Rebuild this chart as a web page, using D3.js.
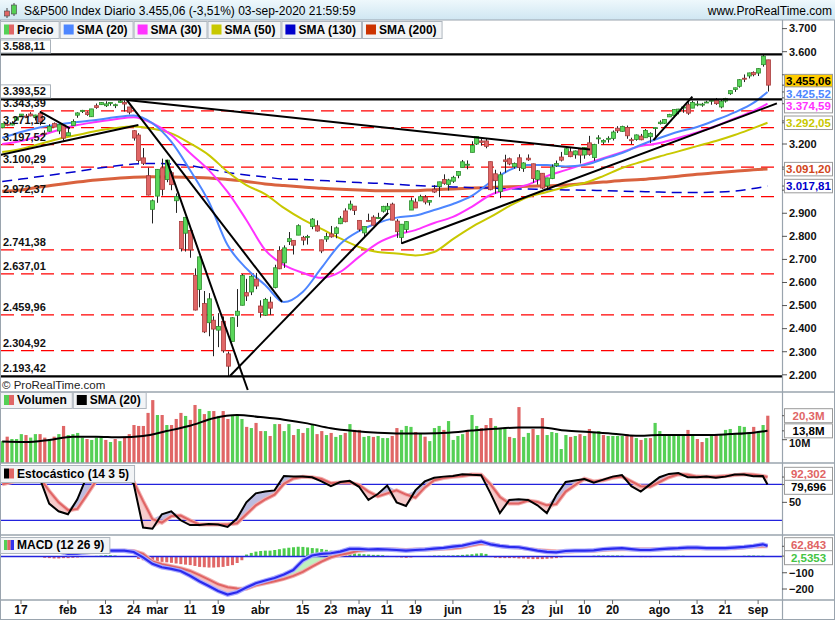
<!DOCTYPE html>
<html lang="es">
<head>
<meta charset="utf-8">
<title>S&amp;P500 Index Diario</title>
<script src="https://cdn.jsdelivr.net/npm/d3@7"></script>
<style>
  body { margin: 0; background: #fff; }
  svg text { font-family: "Liberation Sans", Arial, sans-serif; }
</style>
</head>
<body>
<div id="chart"></div>
<script>
// ---------- data (trading-day index 0 = 13-ene-2020, 163 = 03-sep-2020) ----------
const axisIdx    = [4, 14, 22, 28, 33, 40, 46, 55, 64, 70, 76, 82, 88, 96, 106, 112, 118, 124, 130, 140, 148, 154, 161];
const axisLabels = ["17","feb","13","24","mar","11","19","abr","15","23","may","11","19","jun","15","23","jul","10","20","ago","13","21","sep"];

const openP = [3271.1,3285.4,3282.3,3303.0,3323.7,3321.0,3330.0,3315.8,3333.1,3247.2,3255.4,3289.5,3256.5,3282.3,
  3235.7,3280.6,3324.9,3344.9,3335.5,3318.3,3365.9,3370.5,3365.9,3378.1,3369.0,3380.4,3380.5,3360.5,3257.6,3238.9,3139.9,3062.5,2916.9,
  2974.3,3096.5,3045.8,3075.7,2954.2,2863.9,2813.5,2825.6,2630.9,2570.0,2508.6,2425.7,2436.5,2393.5,2431.9,2290.7,2344.4,2457.8,2501.3,2555.9,2559.0,2614.7,
  2498.1,2458.5,2514.9,2578.3,2738.7,2685.0,2777.0,2782.5,2805.1,2795.6,2799.3,2842.4,2845.6,2784.8,2787.9,2810.4,2812.6,2854.7,2910.0,2918.5,2930.9,
  2869.1,2815.0,2868.9,2883.1,2878.3,2908.8,2915.5,2939.5,2865.9,2794.5,2829.9,2913.9,2948.6,2953.6,2970.0,2948.1,3004.1,3015.7,3046.6,3025.2,
  3038.8,3064.2,3098.9,3111.6,3163.8,3199.9,3213.3,3213.4,3123.5,3071.0,2993.8,3131.0,3136.1,3101.6,3140.3,3094.4,3138.7,3114.4,3046.6,3073.2,3018.6,3050.2,
  3105.9,3143.6,3155.3,3166.4,3153.1,3176.2,3152.5,3205.1,3141.1,3226.0,3208.4,3224.2,3224.3,3268.5,3254.9,3271.6,3218.6,3219.8,3234.3,3227.2,3231.8,3270.5,
  3288.3,3289.9,3317.4,3323.2,3340.1,3356.0,3370.3,3355.5,3373.0,3368.7,3380.9,3387.0,3392.5,3360.5,3386.0,3418.1,3436.0,3450.0,3485.1,3494.7,3509.7,
  3507.4,3543.8,3564.7];
const highP = [3288.1,3294.2,3298.7,3317.1,3329.9,3329.8,3337.8,3326.9,3333.2,3258.9,3285.8,3293.5,3285.9,3282.3,
  3268.4,3306.9,3337.6,3348.0,3341.4,3352.3,3375.6,3381.5,3385.1,3380.7,3375.0,3393.5,3389.2,3360.8,3259.8,3247.0,3182.5,3097.1,2959.7,
  3091.0,3136.7,3131.0,3083.0,2985.9,2863.9,2882.6,2825.6,2661.0,2711.3,2563.0,2553.9,2453.6,2467.0,2453.0,2300.7,2449.7,2571.4,2637.0,2615.9,2631.8,2641.4,
  2522.8,2533.2,2538.2,2676.9,2756.9,2760.8,2818.6,2782.5,2851.9,2801.9,2806.5,2879.2,2869.0,2785.5,2815.1,2844.9,2842.7,2887.7,2921.2,2954.9,2930.9,
  2869.1,2844.2,2898.2,2891.1,2901.9,2932.2,2944.3,2945.8,2874.1,2852.8,2865.0,2968.1,2964.2,2980.3,2978.5,2956.8,3021.7,3036.3,3068.7,3049.2,
  3062.2,3081.1,3130.9,3128.9,3211.7,3233.1,3222.7,3223.3,3123.5,3088.4,3079.8,3153.5,3141.2,3120.0,3155.5,3120.9,3154.9,3115.0,3086.2,3073.7,3053.9,3111.5,
  3128.4,3165.8,3182.6,3184.2,3171.8,3179.8,3186.8,3235.3,3201.0,3238.3,3220.4,3233.5,3258.6,3277.3,3279.3,3280.0,3227.3,3241.4,3243.7,3264.7,3250.9,3272.2,
  3302.7,3306.8,3330.8,3351.0,3352.5,3363.3,3381.0,3387.9,3387.2,3378.5,3387.6,3395.1,3399.5,3390.8,3400.0,3432.1,3444.2,3481.1,3501.4,3509.2,3514.8,
  3528.0,3588.11,3564.9];
const lowP = [3268.4,3277.2,3280.7,3302.8,3318.9,3316.6,3320.0,3301.9,3281.5,3234.5,3253.2,3271.9,3242.8,3214.7,
  3235.7,3280.6,3313.8,3334.4,3322.1,3317.8,3352.7,3369.7,3360.5,3366.2,3355.6,3378.8,3341.0,3328.5,3214.7,3118.8,3109.0,2977.4,2855.8,
  2945.2,2976.6,3034.4,2999.8,2901.5,2734.4,2734.0,2707.2,2478.9,2492.4,2380.9,2367.0,2280.5,2319.8,2295.6,2191.9,2344.4,2407.5,2500.7,2520.0,2545.3,2571.2,
  2447.5,2455.8,2459.96,2574.6,2657.7,2663.3,2762.4,2721.2,2805.1,2761.5,2764.3,2830.9,2820.4,2727.1,2776.0,2794.3,2791.8,2852.9,2860.7,2912.2,2892.5,
  2821.6,2797.9,2863.6,2847.7,2876.5,2902.9,2903.4,2869.6,2793.2,2766.6,2816.8,2913.9,2922.4,2953.6,2938.6,2933.6,2988.2,2969.8,3023.4,2998.6,
  3031.5,3051.6,3098.9,3090.4,3163.8,3196.0,3193.1,3181.5,2999.5,2984.5,2965.7,3076.1,3108.0,3093.5,3083.1,3079.4,3127.1,3032.1,3024.0,3004.6,2999.7,3047.8,
  3101.0,3124.5,3155.3,3142.9,3136.5,3115.7,3136.2,3149.4,3127.7,3200.8,3198.6,3205.7,3215.2,3247.8,3253.1,3222.7,3200.1,3214.3,3216.2,3227.2,3204.1,3220.3,
  3284.5,3286.7,3317.4,3318.1,3328.7,3335.4,3326.4,3355.5,3363.4,3361.6,3379.2,3370.2,3369.7,3354.7,3379.3,3413.1,3425.8,3444.2,3468.4,3484.3,3493.3,
  3494.6,3535.2,3427.4];
const closeP = [3288.1,3283.2,3289.3,3316.8,3329.6,3320.8,3321.8,3325.5,3295.5,3243.6,3276.2,3273.4,3283.7,3225.5,
  3248.9,3297.6,3334.7,3345.8,3327.7,3352.1,3357.8,3379.5,3373.9,3380.2,3370.3,3386.2,3373.2,3337.8,3225.9,3128.2,3116.4,2978.8,2954.2,
  3090.2,3003.4,3130.1,3023.9,2972.4,2746.6,2882.2,2741.4,2480.6,2711.0,2386.1,2529.2,2398.1,2409.4,2304.9,2237.4,2447.3,2475.6,2630.1,2541.5,2626.7,2584.6,
  2470.5,2526.9,2488.7,2663.7,2659.4,2750.0,2789.8,2761.6,2846.1,2783.4,2799.6,2874.6,2823.2,2736.6,2799.3,2797.8,2836.7,2878.5,2863.4,2939.5,2912.4,
  2830.7,2842.7,2868.4,2848.4,2881.2,2929.8,2930.3,2870.1,2820.0,2852.5,2863.7,2953.9,2922.9,2971.6,2948.5,2955.5,2991.8,3036.1,3029.7,3044.3,
  3055.7,3080.8,3122.9,3112.4,3193.9,3232.4,3207.2,3190.1,3002.1,3041.3,3066.6,3124.7,3113.5,3115.3,3097.7,3117.9,3131.3,3050.3,3083.8,3009.1,3053.2,3100.3,
  3115.9,3130.0,3179.7,3145.3,3169.9,3152.1,3185.0,3155.2,3197.5,3226.6,3215.6,3224.7,3251.8,3257.3,3276.0,3235.7,3215.6,3239.4,3218.4,3258.4,3246.2,3271.1,
  3294.6,3306.5,3327.8,3349.2,3351.3,3360.5,3333.7,3380.4,3373.4,3372.9,3382.0,3389.8,3374.9,3385.5,3397.2,3431.3,3443.6,3478.7,3484.6,3508.0,3500.3,
  3526.7,3580.8,3455.06];

// volume in millions
const volume = [9.4,11.3,10.3,10.3,12.4,12.0,10.9,12.4,12.4,10.9,10.3,11.3,12.4,15.9,12.0,12.4,12.9,10.9,10.3,9.9,
  10.9,11.3,9.9,9.0,10.3,9.4,10.9,12.4,16.3,15.9,15.9,21.5,27.0,20.6,20.6,16.3,16.3,18.9,21.5,20.2,
  18.5,24.9,23.2,21.0,22.3,22.3,20.2,22.3,18.9,20.6,20.2,18.9,15.5,15.0,17.2,13.7,13.7,11.6,16.7,16.7,
  13.7,16.7,12.0,14.6,12.9,15.0,16.7,12.4,13.7,12.0,12.9,11.2,12.0,12.9,16.7,14.2,14.2,11.2,11.6,11.2,
  11.6,10.7,10.7,11.6,15.0,14.2,15.9,15.5,13.3,
  12.7,11.3,9.4,15.0,15.9,14.2,18.0,9.9,11.6,12.4,14.2,20.6,15.9,15.0,16.3,19.3,15.9,15.0,15.0,11.2,
  10.7,24.0,11.2,12.9,14.6,12.0,19.3,12.0,13.3,12.9,6.0,12.0,11.2,11.6,12.4,11.6,14.6,13.3,13.7,12.0,
  11.6,11.6,11.6,11.6,12.4,12.0,10.7,9.9,10.7,10.7,17.2,13.7,11.6,11.6,11.6,12.4,11.6,14.2,11.6,10.3,
  9.0,10.7,11.6,12.4,12.0,14.2,14.6,12.9,15.9,15.5,13.3,15.5,13.3,16.3,20.3];
const volSma = [9.2,9.0,9.9,11.3,11.3,11.0,11.6,13.7,16.0,19.2,20.6,19.7,18.6,17.0,14.9,13.7,13.0,12.7,12.7,13.0,
  13.9,14.7,15.2,15.2,13.9,13.3,12.6,11.7,12.0,12.0,12.0,12.4,13.0,13.8];

// moving averages, read every 4 bars (+ last bar)
const sma20  = [3226,3252,3272,3285,3295,3304,3316,3324,3290,3210,3087,2950,2762,2661,2589,2515,2559,2663,2767,2823,2858,
  2881,2890,2914,2940,2975,3035,3087,3109,3109,3103,3109,3135,3161,3196,3226,3253,3274,3304,3337,3378,3425.52];
const sma30  = [3200,3213,3235,3261,3282,3295,3307,3316,3290,3239,3161,3087,2993,2871,2741,2676,2642,2620,2646,2711,2771,
  2806,2827,2858,2884,2928,2979,3005,3024,3061,3087,3113,3139,3165,3191,3204,3226,3250,3278,3311,3343,3374.59];
const sma50  = [3165,3178,3200,3222,3239,3256,3269,3276,3266,3246,3203,3152,3080,3022,2983,2923,2873,2832,2791,2754,2732,
  2726,2717,2732,2788,2840,2884,2931,2970,2992,3014,3031,3061,3096,3122,3146,3168,3191,3213,3239,3269,3292.05];
const sma130 = [3038,3048,3059,3070,3081,3094,3105,3113,3116,3113,3107,3092,3077,3066,3057,3048,3046,3042,3038,3033,3030,
  3025,3020,3017,3014,3011,3009,3006,3005,3003,3001,3000,2998,2996,2994,2992,2990,2990,2992,2996,3007,3017.81];
const sma200 = [2995,3001,3014,3025,3035,3044,3051,3056,3058,3057,3055,3053,3046,3038,3027,3020,3014,3008,3004,3001,2998,
  2998,2998,3002,3005,3009,3012,3015,3017,3019,3022,3029,3035,3042,3046,3053,3060,3069,3075,3082,3089,3091.20];

// stochastic (14 3 5), read every 2 bars (+ last bar)
const stochK = [88,92,95,93,90,48,35,30,55,93, 95,97,96,94,81,8,6,30,35,20, 12,12,14,13,9,23,50,65,68,70,
  94,93,93,92,85,77,84,86,76,54, 64,78,50,44,70,85,91,93,94,97, 96,95.5,65,32,54,55,54,45,32,62,
  84,86.5,89,83,88,93,95.5,77,68,80, 92,97.5,99,92,92,93,91,93,96.5,96.5, 93.5,94,79.696];
const stochD = [80,84,90,92,91,69,50,37,39,62, 86,93,95,94,84,52,22,16,27,28, 20,13,13,13,13,15,30,45,55,63,
  81,90,92.7,92,89,82,83,83.5,79,68, 60,65,70,63,58,75,87,90.5,92.8,94, 96.5,96,80,59,48,48,53,50.5,45,47,
  68,79,89.5,85,87,91,93,85,77,76, 84,92,97,96,93,92.7,92.7,94,95.5,97, 96,94,92.302];

// MACD (12 26 9), read every 2 bars (+ last bar); histogram per bar
const macdLine = [45,46,48,50,52,51,34,16,18,26, 34,36,36,36,28,-5,-45,-66,-76,-89,
  -119,-152,-181,-212,-234,-220,-191,-165,-148,-132, -111,-83,-25,6,16,20,30,47,47,43,
  45,43,40,36,40,43,49,53,61,67, 80,92,75,65,59,57,47,36,28,26, 34,36,36,38,45,49,51,45,40,40,
  45,49,51,55,55,51,51,51,55,59, 65,75,65.4];
const macdSignal = [45,46,47,48,50,43,36,30,24,26, 28,32,34,36,34,16,-31,-47,-60,-72,
  -89,-115,-142,-171,-189,-197,-199,-177,-165,-152, -138,-119,-95,-62,-31,-5,10,22,36,40,
  45,45,43,40,43,43,45,47,51,57, 69,80,78,65,59,55,47,40,36,32, 30,32,34,36,40,43,45,45,45,45,
  45,47,49,51,51,51,51,51,51,55, 61,63,62.843];
const macdHist = [0,0,0,0,0,0,0,0,0, -8,-10,-12,-12,-10,-10,-8,-6,-4, 0,2,4, 6,8,8,6, 3,1,0,-3,
  -15,-23,-26,-29,-31,-33,-36,-39,-43,-47,-50,-53,-58,-64,-66,-68,-68,-66,-64,-58,-53,-40,-23,
  12,22,30,34,36,36,40,45,50,54,57,60,59,56,52,50,46,41,36,31,27,24,22,20,17,14,12,10,10,8,4,0,-4,-6,-8,-6,-3,0,
  2,4,6,6,6,6,7,8,10,12,14,18,20,16,
  -4,-8,-10,-10,-10,-10,-12,-12,-14,-16,-16,-16,-14,-12,-10,-6,-3,
  0,1,1,1,2,5,6,6,6,6,6,5,2,0,-2, -4,-4,-4,-3,0,1,2, 5,5,5,2,1,0,0,-1,-2, -1,-2,-3,-1,0,1, 5,6,6,5,5,2.5353];

// drawn levels and trend lines
const solidLevels  = [3588.11, 3393.52, 2193.42];
const dashedLevels = [3343.39, 3271.12, 3197.52, 3100.29, 2972.37, 2741.38, 2637.01, 2459.96, 2304.92];
const trendLines = [ // [idx1, price1, idx2, price2]
  [26.5, 3391, 125.2, 3176],
  [26.5, 3391, 59.6, 2516],
  [35, 3131, 52.3, 2134],
  [48.5, 2195, 82.2, 2902],
  [85.1, 2770, 165, 3376],
  [138.7, 3217, 147, 3405],
  [-0.5, 3152, 29, 3282],
  [8, 3340, 14.4, 3268]
];

// ---------- layout ----------
const W = 835, H = 620, AX = 782;
const P = {main: [20, 392], vol: [392, 463], sto: [463, 535], macd: [535, 600]};
const gridMa  = d3.range(0, 161, 4).concat([163]);
const gridOsc = d3.range(0, 163, 2).concat([163]);
const gridVol = d3.range(0, 161, 5).concat([163]);

const es = d3.formatLocale({decimal: ",", thousands: ".", grouping: [3], currency: ["", ""]});
const f2 = es.format(",.2f"), f0 = es.format(",.0f"), f3 = es.format(",.3f"), f1 = es.format(",.1f"), f4 = es.format(",.4f");

const x  = d3.scaleLinear().domain([4, 163]).range([21, 767.5]);
const yP = d3.scaleLinear().domain([2200, 3600]).range([374.8, 51.7]);
const yV = d3.scaleLinear().domain([0, 10]).range([463, 439.7]);
const yS = d3.scaleLinear().domain([20, 80]).range([520.3, 484.4]);
const yM = d3.scaleLinear().domain([-200, 0]).range([589, 556.5]);

const svg = d3.select("#chart").append("svg").attr("width", W).attr("height", H);
svg.append("rect").attr("width", W).attr("height", H).attr("fill", "#fff");

const defs = svg.append("defs");
Object.entries(P).forEach(([k, r]) => {
  defs.append("clipPath").attr("id", "clip-" + k)
    .append("rect").attr("x", 0).attr("y", r[0]).attr("width", AX).attr("height", r[1] - r[0]);
});
const grad = defs.append("linearGradient").attr("id", "titleGrad").attr("x1", 0).attr("y1", 0).attr("x2", 0).attr("y2", 1);
grad.append("stop").attr("offset", "0%").attr("stop-color", "#eef8fc");
grad.append("stop").attr("offset", "100%").attr("stop-color", "#cfe6f2");

const pts = (grid, vals) => grid.map((i, k) => ({i: i, v: vals[k]}));

// ---------- main price panel ----------
const gm = svg.append("g").attr("clip-path", "url(#clip-main)");

gm.selectAll("line.dash").data(dashedLevels).join("line")
  .attr("x1", 1).attr("x2", 777).attr("y1", d => yP(d)).attr("y2", d => yP(d))
  .attr("stroke", "#ff0000").attr("stroke-width", 1.2).attr("stroke-dasharray", "13,7");

const maLine = d3.line().x(d => x(d.i)).y(d => yP(d.v)).curve(d3.curveMonotoneX);
const mas = [
  {vals: sma200, color: "#d2461c", w: 3, dash: null},
  {vals: sma130, color: "#0000cc", w: 1.5, dash: "10,6"},
  {vals: sma50,  color: "#c8c800", w: 2,   dash: null},
  {vals: sma30,  color: "#ff33ff", w: 2,   dash: null},
  {vals: sma20,  color: "#4d86ff", w: 2,   dash: null}
];
mas.forEach(m => {
  gm.append("path").attr("d", maLine(pts(gridMa, m.vals))).attr("fill", "none")
    .attr("stroke", m.color).attr("stroke-width", m.w).attr("stroke-dasharray", m.dash)
    .attr("stroke-opacity", m.w > 2.5 ? 0.85 : 1);
});

const cg = gm.selectAll("g.candle").data(d3.range(closeP.length)).join("g");
cg.append("line")
  .attr("x1", i => Math.round(x(i)) + 0.5).attr("x2", i => Math.round(x(i)) + 0.5)
  .attr("y1", i => yP(highP[i])).attr("y2", i => yP(lowP[i]))
  .attr("stroke", "#222").attr("stroke-width", 1);
cg.append("rect")
  .attr("x", i => Math.round(x(i)) - 1.5)
  .attr("y", i => yP(Math.max(openP[i], closeP[i])))
  .attr("width", 4)
  .attr("height", i => Math.max(1, Math.abs(yP(openP[i]) - yP(closeP[i]))))
  .attr("fill", i => closeP[i] >= openP[i] ? "#5ad65a" : "#e06666")
  .attr("stroke", i => closeP[i] >= openP[i] ? "#2f8f2f" : "#a83c3c")
  .attr("stroke-width", 0.8);

gm.selectAll("line.trend").data(trendLines).join("line")
  .attr("x1", d => x(d[0])).attr("y1", d => yP(d[1]))
  .attr("x2", d => x(d[2])).attr("y2", d => yP(d[3]))
  .attr("stroke", "#000").attr("stroke-width", 2);

gm.selectAll("line.solid").data(solidLevels).join("line")
  .attr("x1", 0).attr("x2", AX).attr("y1", d => yP(d)).attr("y2", d => yP(d))
  .attr("stroke", "#000").attr("stroke-width", 2.2);

// level labels on the left
const levelLabels = solidLevels.concat(dashedLevels);
levelLabels.forEach((v, k) => {
  const yy = yP(v);
  if (k < 2) {
    svg.append("rect").attr("x", 0.5).attr("y", yy - 14.5).attr("width", 50).attr("height", 13)
      .attr("fill", "#fff").attr("stroke", "#aab2ba");
  }
  svg.append("text").attr("x", 3).attr("y", yy - 4).attr("font-size", 11).attr("font-weight", "bold")
    .attr("fill", "#111").text(f2(v));
});

svg.append("text").attr("x", 2).attr("y", 389).attr("font-size", 11.5).attr("fill", "#222").text("\u00a9 ProRealTime.com");

// ---------- volume panel ----------
const gv = svg.append("g").attr("clip-path", "url(#clip-vol)");
gv.selectAll("rect").data(volume).join("rect")
  .attr("x", (d, i) => x(i) - 1.3).attr("width", 3.2)
  .attr("y", d => yV(d)).attr("height", d => yV(0) - yV(d))
  .attr("fill", (d, i) => (i === 0 ? closeP[0] >= openP[0] : closeP[i] >= closeP[i - 1]) ? "#55d055" : "#e06666");
gv.append("path").attr("d", d3.line().x(d => x(d.i)).y(d => yV(d.v)).curve(d3.curveMonotoneX)(pts(gridVol, volSma)))
  .attr("fill", "none").attr("stroke", "#000").attr("stroke-width", 2);

// ---------- stochastic panel ----------
const gs = svg.append("g").attr("clip-path", "url(#clip-sto)");
const stoData = gridOsc.map((i, k) => ({i: i, k: stochK[k], d: stochD[k]}));
gs.append("path").attr("fill", "#bcbce0")
  .attr("d", d3.area().x(d => x(d.i)).y0(d => yS(d.d)).y1(d => yS(Math.max(d.k, d.d)))(stoData));
gs.append("path").attr("fill", "#f7cccc")
  .attr("d", d3.area().x(d => x(d.i)).y0(d => yS(d.d)).y1(d => yS(Math.min(d.k, d.d)))(stoData));
[80, 20].forEach(v => gs.append("line").attr("x1", 0).attr("x2", AX).attr("y1", yS(v)).attr("y2", yS(v))
  .attr("stroke", "#2222dd").attr("stroke-width", 1.3));
gs.append("path").attr("d", d3.line().x(d => x(d.i)).y(d => yS(d.d))(stoData))
  .attr("fill", "none").attr("stroke", "#f2b0b0").attr("stroke-width", 4);
gs.append("path").attr("d", d3.line().x(d => x(d.i)).y(d => yS(d.d))(stoData))
  .attr("fill", "none").attr("stroke", "#e06464").attr("stroke-width", 2);
gs.append("path").attr("d", d3.line().x(d => x(d.i)).y(d => yS(d.k))(stoData))
  .attr("fill", "none").attr("stroke", "#000").attr("stroke-width", 2);

// ---------- MACD panel ----------
const gd = svg.append("g").attr("clip-path", "url(#clip-macd)");
const mData = gridOsc.map((i, k) => ({i: i, m: macdLine[k], s: macdSignal[k]}));
gd.append("path").attr("fill", "#bff0bf")
  .attr("d", d3.area().x(d => x(d.i)).y0(d => yM(d.s)).y1(d => yM(Math.max(d.m, d.s)))(mData));
gd.append("path").attr("fill", "#f6c2c2")
  .attr("d", d3.area().x(d => x(d.i)).y0(d => yM(d.s)).y1(d => yM(Math.min(d.m, d.s)))(mData));
gd.selectAll("rect.h").data(macdHist).join("rect")
  .attr("x", (d, i) => x(i) - 1.3).attr("width", 3)
  .attr("y", d => Math.min(yM(d), yM(0))).attr("height", d => Math.abs(yM(d) - yM(0)))
  .attr("fill", d => d >= 0 ? "#4ccc4c" : "#e06666");
gd.append("line").attr("x1", 0).attr("x2", AX).attr("y1", yM(0)).attr("y2", yM(0))
  .attr("stroke", "#2222dd").attr("stroke-width", 1.3);
gd.append("path").attr("d", d3.line().x(d => x(d.i)).y(d => yM(d.s))(mData))
  .attr("fill", "none").attr("stroke", "#f2b0b0").attr("stroke-width", 4);
gd.append("path").attr("d", d3.line().x(d => x(d.i)).y(d => yM(d.s))(mData))
  .attr("fill", "none").attr("stroke", "#e06464").attr("stroke-width", 2);
gd.append("path").attr("d", d3.line().x(d => x(d.i)).y(d => yM(d.m))(mData))
  .attr("fill", "none").attr("stroke", "#a8a8ff").attr("stroke-width", 4.5);
gd.append("path").attr("d", d3.line().x(d => x(d.i)).y(d => yM(d.m))(mData))
  .attr("fill", "none").attr("stroke", "#2a2aee").attr("stroke-width", 2.2);

// ---------- frames ----------
const frame = "#9aa4ae";
[392, 463, 535, 600].forEach(yy => svg.append("line").attr("x1", 0).attr("x2", W).attr("y1", yy).attr("y2", yy)
  .attr("stroke", frame).attr("stroke-width", 1.5));
svg.append("line").attr("x1", AX + 0.5).attr("x2", AX + 0.5).attr("y1", 20).attr("y2", 620).attr("stroke", frame).attr("stroke-width", 1.2);
svg.append("line").attr("x1", 0.5).attr("x2", 0.5).attr("y1", 20).attr("y2", 620).attr("stroke", frame);
svg.append("line").attr("x1", W - 0.5).attr("x2", W - 0.5).attr("y1", 0).attr("y2", 620).attr("stroke", frame);
svg.append("line").attr("x1", 0).attr("x2", W).attr("y1", 619.5).attr("y2", 619.5).attr("stroke", frame);

// ---------- right axes and value tags ----------
function layoutTags(items, h) {
  items.forEach(t => { t.y = t.scale(t.v); t.ty = t.y; t.h = h; });
  items.sort((a, b) => a.y - b.y);
  for (let it = 0; it < 30; it++) {
    for (let k = 1; k < items.length; k++) {
      const ov = h - (items[k].ty - items[k - 1].ty);
      if (ov > 0) { items[k - 1].ty -= ov / 2; items[k].ty += ov / 2; }
    }
  }
  return items;
}
const last = a => a[a.length - 1];
const allTags = [].concat(
  layoutTags([
    {v: last(closeP), scale: yP, text: f2(last(closeP)), color: "#000", fill: "#ffcc00"},
    {v: last(sma20),  scale: yP, text: f2(last(sma20)),  color: "#4d86ff"},
    {v: last(sma30),  scale: yP, text: f2(last(sma30)),  color: "#ff33ff"},
    {v: last(sma50),  scale: yP, text: f2(last(sma50)),  color: "#c8c800"},
    {v: last(sma200), scale: yP, text: f2(last(sma200)), color: "#d2461c"},
    {v: last(sma130), scale: yP, text: f2(last(sma130)), color: "#0000cc"}
  ], 12.5),
  layoutTags([
    {v: last(volume), scale: yV, text: f1(last(volume)) + "M", color: "#e06666"},
    {v: last(volSma), scale: yV, text: f1(last(volSma)) + "M", color: "#000"}
  ], 13),
  layoutTags([
    {v: last(stochD), scale: yS, text: f3(last(stochD)), color: "#e06464"},
    {v: last(stochK), scale: yS, text: f3(last(stochK)), color: "#000"}
  ], 13),
  layoutTags([
    {v: last(macdSignal), scale: yM, text: f3(last(macdSignal)), color: "#e06464"},
    {v: last(macdHist),   scale: yM, text: f4(last(macdHist)),   color: "#44c444"}
  ], 13)
);

function axisTicks(vals, scale, fmt) {
  vals.forEach(v => {
    const yy = scale(v);
    svg.append("line").attr("x1", AX).attr("x2", AX + 5).attr("y1", yy).attr("y2", yy).attr("stroke", "#555");
    // labels sitting under a value tag are hidden, as in the platform
    const covered = allTags.some(t => yy > t.ty - t.h / 2 - 1 && yy < t.ty + t.h / 2 + 1);
    if (covered) return;
    // a label just touching a tag is pushed clear of it
    let ly = yy;
    allTags.forEach(t => {
      const bottom = t.ty + t.h / 2 + 0.5;
      if (ly - 5 < bottom && ly > t.ty) ly = bottom + 5.5;
    });
    svg.append("text").attr("x", AX + 7).attr("y", ly).attr("dy", "0.35em").attr("font-size", 11)
      .attr("font-weight", "bold").attr("fill", "#111").text(fmt(v));
  });
}
axisTicks(d3.range(2200, 3701, 100), yP, f0);
axisTicks([10], yV, v => v + "M");
axisTicks([50], yS, f0);
axisTicks([-100, -200], yM, f0);

allTags.forEach(t => {
  svg.append("line").attr("x1", AX).attr("x2", AX + 5).attr("y1", t.y).attr("y2", t.y).attr("stroke", "#555");
  svg.append("rect").attr("x", 784.5).attr("y", t.ty - t.h / 2 - 0.5).attr("width", 48).attr("height", t.h + 1)
    .attr("fill", t.fill || "#fff").attr("stroke", "#9a9a9a");
  svg.append("text").attr("x", 808.5).attr("y", t.ty).attr("dy", "0.36em").attr("text-anchor", "middle")
    .attr("font-size", 11.5).attr("font-weight", "bold").attr("fill", t.color).text(t.text);
});

// ---------- bottom date axis ----------
axisIdx.forEach((i, k) => {
  const xx = x(i);
  svg.append("line").attr("x1", xx).attr("x2", xx).attr("y1", 600).attr("y2", 604).attr("stroke", "#666");
  svg.append("text").attr("x", xx).attr("y", 614).attr("text-anchor", "middle")
    .attr("font-family", "'Liberation Sans Narrow', 'DejaVu Sans Condensed', Arial, sans-serif")
    .attr("font-size", 12).attr("font-weight", "bold").attr("fill", "#111").text(axisLabels[k]);
});

// ---------- title bar & legends ----------
svg.append("rect").attr("x", 0).attr("y", 0).attr("width", W).attr("height", 20).attr("fill", "url(#titleGrad)");
svg.append("line").attr("x1", 0).attr("x2", W).attr("y1", 20).attr("y2", 20).attr("stroke", frame).attr("stroke-width", 1.2);
// small candle icon
svg.append("line").attr("x1", 7).attr("x2", 7).attr("y1", 8).attr("y2", 18).attr("stroke", "#444");
svg.append("rect").attr("x", 4.5).attr("y", 11).attr("width", 5).attr("height", 5).attr("fill", "#e06666").attr("stroke", "#444").attr("stroke-width", 0.6);
svg.append("line").attr("x1", 14).attr("x2", 14).attr("y1", 3).attr("y2", 16).attr("stroke", "#444");
svg.append("rect").attr("x", 11.5).attr("y", 5).attr("width", 5).attr("height", 9).attr("fill", "#55d055").attr("stroke", "#444").attr("stroke-width", 0.6);
svg.append("text").attr("x", 24).attr("y", 15).attr("font-size", 12).attr("fill", "#000")
  .text("S&P500 Index Diario 3.455,06 (-3,51%) 03-sep-2020 21:59:59");
svg.append("text").attr("x", 832).attr("y", 15).attr("text-anchor", "end").attr("font-size", 12).attr("fill", "#000")
  .text("www.ProRealTime.com");

function legend(x0, y0, h, entries) {
  let xx = x0;
  entries.forEach(e => {
    const g = svg.append("g");
    const t = g.append("text").attr("x", xx + 17).attr("y", y0 + h / 2).attr("dy", "0.36em")
      .attr("font-size", 12).attr("font-weight", "bold").attr("fill", "#000").text(e.label);
    const w = t.node().getComputedTextLength() + 22;
    g.insert("rect", "text").attr("x", xx + 0.5).attr("y", y0 + 0.5).attr("width", w).attr("height", h)
      .attr("fill", "#f2f4f6").attr("stroke", "#aeb6be");
    const n = e.colors.length, sw = 10 / n;
    e.colors.forEach((c, k) => g.append("rect").attr("x", xx + 4 + k * sw).attr("y", y0 + h / 2 - 5)
      .attr("width", sw).attr("height", 10).attr("fill", c));
    xx += w + 1;
  });
}
legend(0, 21, 17, [
  {label: "Precio", colors: ["#55d055", "#e06666"]},
  {label: "SMA (20)", colors: ["#4d86ff"]},
  {label: "SMA (30)", colors: ["#ff33ff"]},
  {label: "SMA (50)", colors: ["#c8c800"]},
  {label: "SMA (130)", colors: ["#0000cc"]},
  {label: "SMA (200)", colors: ["#cc3300"]}
]);
legend(0, 392, 16, [
  {label: "Volumen", colors: ["#55d055", "#e06666"]},
  {label: "SMA (20)", colors: ["#000"]}
]);
legend(0, 465, 17, [{label: "Estoc\u00e1stico (14 3 5)", colors: ["#000", "#e06666"]}]);
legend(0, 537, 16, [{label: "MACD (12 26 9)", colors: ["#55d055", "#e06666", "#3333ee"]}]);
</script>
</body>
</html>
